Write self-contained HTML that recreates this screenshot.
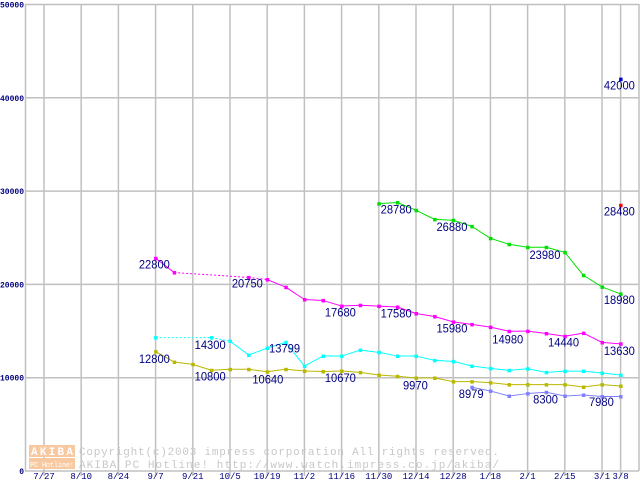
<!DOCTYPE html>
<html><head><meta charset="utf-8"><style>
body{margin:0;background:#fff;}
svg{display:block;font-family:"Liberation Mono","DejaVu Sans Mono",monospace;}
</style></head><body>
<svg id="chart" width="640" height="480" xmlns="http://www.w3.org/2000/svg"></svg>
<script>
const xTickLabels=["7/27","8/10","8/24","9/7","9/21","10/5","10/19","11/2","11/16","11/30","12/14","12/28","1/18","2/1","2/15","3/1","3/8"];
const xTickIdx=[0,2,4,6,8,10,12,14,16,18,20,22,24,26,28,30,31];
const yTicks=[0,10000,20000,30000,40000,50000];
const greenIdx=[18,19,20,21,22,23,24,25,26,27,28,29,30,31];
const greenVals=[28650,28780,27940,26970,26880,26220,24940,24300,23980,23980,23440,20980,19730,18980];
const magentaIdx=[6,7,11,12,13,14,15,16,17,18,19,20,21,22,23,24,25,26,27,28,29,30,31];
const magentaVals=[22800,21270,20750,20520,19700,18380,18280,17680,17770,17670,17580,16880,16560,15980,15710,15420,14980,14990,14740,14440,14780,13780,13630];
const magentaDash=[1,2];
const cyanIdx=[6,9,10,11,12,13,14,15,16,17,18,19,20,21,22,23,24,25,26,27,28,29,30,31];
const cyanVals=[14300,14300,13920,12430,13180,13799,11250,12320,12320,12960,12720,12320,12320,11860,11750,11250,11000,10790,10960,10570,10710,10710,10500,10290];
const cyanDash=[0,1];
const oliveIdx=[6,7,8,9,10,11,12,13,14,15,16,17,18,19,20,21,22,23,24,25,26,27,28,29,30,31];
const oliveVals=[12800,11680,11430,10800,10900,10900,10640,10900,10720,10670,10720,10570,10290,10150,9970,9970,9580,9580,9470,9260,9260,9260,9260,9000,9260,9110];
const purpleIdx=[23,24,25,26,27,28,29,30,31];
const purpleVals=[8979,8580,8040,8300,8440,8040,8150,7980,7980];
const singleIdx=[31,31];
const singleVals=[42000,28480];
const singleColors=["#0000cc","#ff0000"];
const labelTexts=["22800","12800","14300","10800","20750","10640","13799","10670","17680","28780","17580","9970","26880","15980","8979","14980","23980","8300","14440","7980","42000","28480","18980","13630"];
const labelIdx=[5.1,5.1,8.1,8.1,10.1,11.2,12.1,15.1,15.1,18.1,18.1,19.3,21.1,21.1,22.3,24.1,26.1,26.3,27.1,29.3,30.1,30.1,30.1,30.1];
const labelVals=[21700,11600,13100,9700,19650,9400,12700,9550,16580,27600,16470,8750,25750,14850,7800,13650,22700,7250,13350,6950,40900,27400,17900,12450];

const svg=document.getElementById('chart');
const NS="http://www.w3.org/2000/svg";
const X=i=>44+i*18.6;
const Y=v=>471-v*0.00933;
function mk(tag,attrs,parent){const e=document.createElementNS(NS,tag);for(const k in attrs)e.setAttribute(k,attrs[k]);(parent||svg).appendChild(e);return e;}

yTicks.forEach((t,i)=>{
  const l=mk('line',{x1:25,x2:639,y1:Y(t),y2:Y(t),stroke:'#c0c0c0','stroke-width':1.5});
  
  
  const s=String(t);
  const tx=mk('text',{x:24,y:Y(t)+3,'text-anchor':'end','font-size':8,'font-weight':'bold',fill:'#000080',textLength:s.length*4.8,lengthAdjust:'spacingAndGlyphs'});
  tx.textContent=s;
  
  
});
xTickIdx.forEach((k,i)=>{
  const l=mk('line',{x1:X(k),x2:X(k),y1:4,y2:476,stroke:'#c0c0c0','stroke-width':1.5});
  
  
  const tx=mk('text',{x:X(k),y:479,'text-anchor':'middle','font-size':9,fill:'#000080'});
  tx.textContent=xTickLabels[i];
  
  
});
const ax=mk('line',{x1:25.5,x2:25.5,y1:4,y2:471,stroke:'#c0c0c0','stroke-width':1.5});


mk('line',{x1:639,x2:639,y1:4,y2:471,stroke:'#c0c0c0','stroke-width':1.5});

const wm=mk('g',{});


mk('rect',{x:29,y:445,width:46,height:12,fill:'#f8c8a0'},wm);
mk('rect',{x:29,y:458,width:46,height:11,fill:'#f8c8a0'},wm);
const w1=mk('text',{x:31,y:455,'font-size':11,'font-weight':'bold',fill:'#fff',textLength:42},wm);w1.textContent="AKIBA";
const w2=mk('text',{x:30,y:467,'font-size':7,fill:'#fff',textLength:44},wm);w2.textContent="PC Hotline!";
const w3=mk('text',{x:79,y:455,'font-size':11,fill:'#c8c8c8',textLength:420},wm);w3.textContent="Copyright(c)2003 impress corporation All rights reserved.";
const w4=mk('text',{x:79,y:468,'font-size':11,fill:'#c8c8c8',textLength:420},wm);w4.textContent="AKIBA PC Hotline!  http://www.watch.impress.co.jp/akiba/";

function series(name,idx,vals,color,dashSegs){
  const g=mk('g',{});
  
  
  for(let i=0;i<idx.length-1;i++){
    const a={x1:X(idx[i]),y1:Y(vals[i]),x2:X(idx[i+1]),y2:Y(vals[i+1]),stroke:color,'stroke-width':1};
    if(dashSegs&&dashSegs.includes(i))a['stroke-dasharray']='2,2';
    mk('line',a,g);
  }
  idx.forEach((k,i)=>{
    const r=mk('rect',{x:X(k)-1.5,y:Y(vals[i])-1.5,width:3.5,height:3.5,fill:color},g);
    
    
  });
}
series('series-green',greenIdx,greenVals,'#00e000',null);
series('series-magenta',magentaIdx,magentaVals,'#ff00ff',magentaDash);
series('series-cyan',cyanIdx,cyanVals,'#00ffff',cyanDash);
series('series-olive',oliveIdx,oliveVals,'#b8b800',null);
series('series-purple',purpleIdx,purpleVals,'#8080ff',null);
singleIdx.forEach((k,i)=>{
  const r=mk('rect',{x:X(k)-1.5,y:Y(singleVals[i])-1.5,width:3.5,height:3.5,fill:singleColors[i]});
  
  
});
labelTexts.forEach((t,i)=>{
  const tx=mk('text',{x:X(labelIdx[i]),y:Y(labelVals[i]),'font-family':'"Liberation Sans",sans-serif','font-size':12,fill:'#000080',textLength:t.length*6.2,lengthAdjust:'spacingAndGlyphs'});
  tx.textContent=t;
  
  
});
</script>
</body></html>
